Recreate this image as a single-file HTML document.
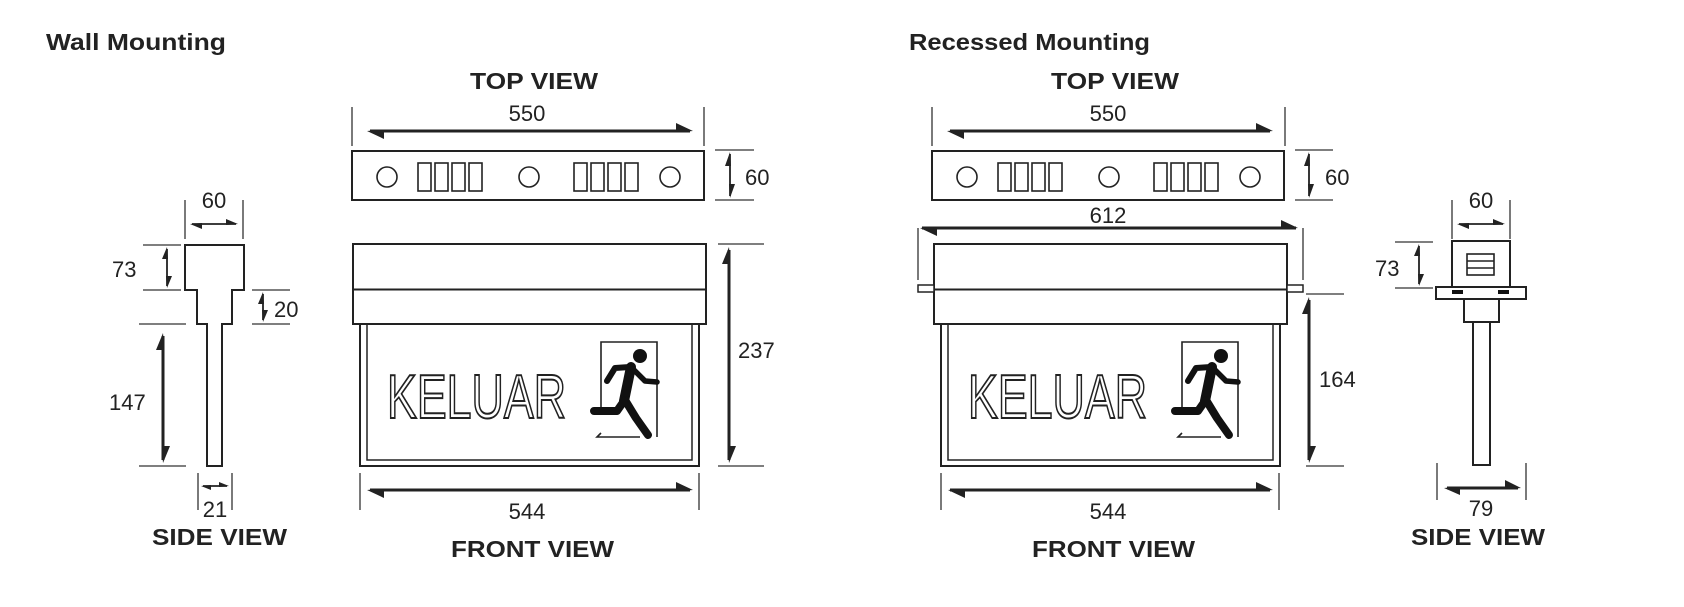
<!DOCTYPE html>
<html><head><meta charset="utf-8"><style>
html,body{margin:0;padding:0;background:#fff;}
svg{display:block;}
text{font-family:"Liberation Sans",Arial,sans-serif;fill:#222;}
.lb{font-weight:bold;font-size:23px;}
.num{font-size:22px;}
</style></head><body>
<svg width="1684" height="607" viewBox="0 0 1684 607" xmlns="http://www.w3.org/2000/svg">
<defs>
<g id="topview">
  <rect x="352" y="151" width="352" height="49" fill="none" stroke="#222" stroke-width="2"/>
  <g fill="none" stroke="#222" stroke-width="1.6">
    <circle cx="387" cy="177" r="10"/><circle cx="529" cy="177" r="10"/><circle cx="670" cy="177" r="10"/>
    <rect x="418" y="163" width="13" height="28"/><rect x="435" y="163" width="13" height="28"/><rect x="452" y="163" width="13" height="28"/><rect x="469" y="163" width="13" height="28"/>
    <rect x="574" y="163" width="13" height="28"/><rect x="591" y="163" width="13" height="28"/><rect x="608" y="163" width="13" height="28"/><rect x="625" y="163" width="13" height="28"/>
  </g>
</g>
<g id="frontview">
  <rect x="353" y="244" width="353" height="80" fill="none" stroke="#222" stroke-width="2"/>
  <line x1="353" y1="289.5" x2="706" y2="289.5" stroke="#222" stroke-width="2"/>
  <rect x="360" y="324" width="339" height="142" fill="none" stroke="#222" stroke-width="2"/>
  <rect x="367" y="324" width="325" height="136" fill="none" stroke="#222" stroke-width="1.5"/>
  <text x="387" y="418" font-size="62" textLength="179" lengthAdjust="spacingAndGlyphs" style="fill:#fff;stroke:#222;stroke-width:2">KELUAR</text>
  <g>
    <polyline points="601,410 601,342 657,342 657,437" fill="none" stroke="#222" stroke-width="1.6"/>
    <polyline points="601,433 597,437 640,437" fill="none" stroke="#222" stroke-width="1.6"/>
    <circle cx="640" cy="356" r="7" fill="#111"/>
    <g fill="none" stroke="#111" stroke-linecap="round" stroke-linejoin="round">
      <polyline points="631,367 624,401" stroke-width="10"/>
      <polyline points="630,367 615,368 607,381" stroke-width="6"/>
      <polyline points="633,369 645,381 657,382" stroke-width="5.5"/>
      <polyline points="625,400 636,418 648,435" stroke-width="8"/>
      <polyline points="624,401 617,411 594,411" stroke-width="8"/>
    </g>
  </g>
</g>
</defs>

<text class="lb" x="46" y="50" font-size="22" textLength="180" lengthAdjust="spacingAndGlyphs">Wall Mounting</text>
<text class="lb" x="909" y="50" font-size="22" textLength="241" lengthAdjust="spacingAndGlyphs">Recessed Mounting</text>
<text class="lb" x="470" y="89" textLength="128" lengthAdjust="spacingAndGlyphs">TOP VIEW</text>
<text class="lb" x="1051" y="89" textLength="128" lengthAdjust="spacingAndGlyphs">TOP VIEW</text>
<text class="lb" x="451" y="557" textLength="163" lengthAdjust="spacingAndGlyphs">FRONT VIEW</text>
<text class="lb" x="1032" y="557" textLength="163" lengthAdjust="spacingAndGlyphs">FRONT VIEW</text>
<text class="lb" x="152" y="545" textLength="135" lengthAdjust="spacingAndGlyphs">SIDE VIEW</text>
<text class="lb" x="1411" y="545" textLength="134" lengthAdjust="spacingAndGlyphs">SIDE VIEW</text>

<use href="#topview"/>
<use href="#topview" transform="translate(580,0)"/>
<use href="#frontview"/>
<use href="#frontview" transform="translate(581,0)"/>
<rect x="918" y="285" width="16" height="7" fill="#fff" stroke="#222" stroke-width="1.5"/>
<rect x="1287" y="285" width="16" height="7" fill="#fff" stroke="#222" stroke-width="1.5"/>

<polygon points="185,245 244,245 244,290 232,290 232,324 222,324 222,466 207,466 207,324 197,324 197,290 185,290" fill="none" stroke="#222" stroke-width="2"/>

<g fill="none" stroke="#222" stroke-width="2">
<rect x="1452" y="241" width="58" height="46"/>
<rect x="1467" y="254" width="27" height="21" stroke-width="1.6"/>
<line x1="1467" y1="261" x2="1494" y2="261" stroke-width="1.4"/>
<line x1="1467" y1="268" x2="1494" y2="268" stroke-width="1.4"/>
<rect x="1436" y="287" width="90" height="12"/>
<rect x="1464" y="299" width="35" height="23"/>
<rect x="1473" y="322" width="17" height="143"/>
</g>
<rect x="1452" y="290" width="11" height="4" fill="#111"/>
<rect x="1498" y="290" width="11" height="4" fill="#111"/>

<g stroke="#333" stroke-width="1.3">
<line x1="352" y1="107" x2="352" y2="146"/><line x1="704" y1="107" x2="704" y2="146"/>
<line x1="715" y1="150" x2="754" y2="150"/><line x1="715" y1="200" x2="754" y2="200"/>
<line x1="718" y1="244" x2="764" y2="244"/><line x1="718" y1="466" x2="764" y2="466"/>
<line x1="360" y1="473" x2="360" y2="510"/><line x1="699" y1="473" x2="699" y2="510"/>
<line x1="185" y1="200" x2="185" y2="239"/><line x1="243" y1="200" x2="243" y2="239"/>
<line x1="143" y1="245" x2="181" y2="245"/><line x1="143" y1="290" x2="181" y2="290"/>
<line x1="252" y1="290" x2="290" y2="290"/><line x1="252" y1="324" x2="290" y2="324"/>
<line x1="139" y1="324" x2="186" y2="324"/><line x1="139" y1="466" x2="186" y2="466"/>
<line x1="198" y1="473" x2="198" y2="510"/><line x1="232" y1="473" x2="232" y2="510"/>

<line x1="932" y1="107" x2="932" y2="146"/><line x1="1285" y1="107" x2="1285" y2="146"/>
<line x1="1295" y1="150" x2="1333" y2="150"/><line x1="1295" y1="200" x2="1333" y2="200"/>
<line x1="918" y1="228" x2="918" y2="280"/><line x1="1303" y1="228" x2="1303" y2="280"/>
<line x1="1306" y1="294" x2="1344" y2="294"/><line x1="1306" y1="466" x2="1344" y2="466"/>
<line x1="941" y1="473" x2="941" y2="510"/><line x1="1279" y1="473" x2="1279" y2="510"/>
<line x1="1452" y1="200" x2="1452" y2="239"/><line x1="1510" y1="200" x2="1510" y2="239"/>
<line x1="1395" y1="242" x2="1433" y2="242"/><line x1="1395" y1="288" x2="1433" y2="288"/>
<line x1="1437" y1="463" x2="1437" y2="500"/><line x1="1526" y1="463" x2="1526" y2="500"/>
</g>

<g stroke="#222" stroke-width="3">
<line x1="370" y1="131" x2="690" y2="131"/>
<line x1="370" y1="490" x2="690" y2="490"/>
<line x1="950" y1="131" x2="1270" y2="131"/>
<line x1="950" y1="490" x2="1270" y2="490"/>
<line x1="922" y1="228" x2="1296" y2="228"/>
<line x1="729" y1="250" x2="729" y2="460"/>
<line x1="163" y1="336" x2="163" y2="460"/>
<line x1="1309" y1="300" x2="1309" y2="460"/>
<line x1="1447" y1="488" x2="1518" y2="488"/>
</g>
<g stroke="#222" stroke-width="1.8">
<line x1="730" y1="154" x2="730" y2="196"/>
<line x1="1309" y1="154" x2="1309" y2="196"/>
<line x1="192" y1="224" x2="236" y2="224"/>
<line x1="1459" y1="224" x2="1503" y2="224"/>
<line x1="167" y1="249" x2="167" y2="286"/>
<line x1="1419" y1="246" x2="1419" y2="284"/>
<line x1="263" y1="294" x2="263" y2="320"/>
<line x1="203" y1="486" x2="227" y2="486"/>
</g>
<g fill="#222">
<polygon points="367,131 384,129.5 384,139"/><polygon points="693,131 676,132.5 676,123"/>
<polygon points="367,490 384,488.5 384,498"/><polygon points="693,490 676,491.5 676,482"/>
<polygon points="947,131 964,129.5 964,139"/><polygon points="1273,131 1256,132.5 1256,123"/>
<polygon points="948,490 965,488.5 965,498"/><polygon points="1273,490 1256,491.5 1256,482"/>
<polygon points="920,228 937,226.5 937,236"/><polygon points="1298,228 1281,229.5 1281,220"/>
<polygon points="1444,488 1460,486.5 1460,495"/><polygon points="1521,488 1505,489.5 1505,480"/>
<polygon points="729,247 722,264 730.5,264"/><polygon points="729,463 736,446 727.5,446"/>
<polygon points="163,333 156,350 164.5,350"/><polygon points="163,463 170,446 161.5,446"/>
<polygon points="1309,297 1302,314 1310.5,314"/><polygon points="1309,463 1316,446 1307.5,446"/>
<polygon points="730,152 725,166 731,166"/><polygon points="730,198 735,184 729,184"/>
<polygon points="1309,152 1304,166 1310,166"/><polygon points="1309,198 1314,184 1308,184"/>
<polygon points="190,224 202,223 202,229"/><polygon points="238,224 226,225 226,219"/>
<polygon points="1457,224 1469,223 1469,229"/><polygon points="1505,224 1493,225 1493,219"/>
<polygon points="167,247 162,259 168,259"/><polygon points="167,288 172,276 166,276"/>
<polygon points="1419,244 1414,256 1420,256"/><polygon points="1419,286 1424,274 1418,274"/>
<polygon points="263,292 258,304 264,304"/><polygon points="263,322 268,310 262,310"/>
<polygon points="201,486 211,485 211,490"/><polygon points="229,486 219,487 219,482"/>
</g>

<g class="num">
<text x="527" y="121" text-anchor="middle">550</text>
<text x="1108" y="121" text-anchor="middle">550</text>
<text x="745" y="185">60</text>
<text x="1325" y="185">60</text>
<text x="738" y="358">237</text>
<text x="527" y="519" text-anchor="middle">544</text>
<text x="1108" y="519" text-anchor="middle">544</text>
<text x="1108" y="223" text-anchor="middle">612</text>
<text x="1319" y="387">164</text>
<text x="214" y="208" text-anchor="middle">60</text>
<text x="1481" y="208" text-anchor="middle">60</text>
<text x="112" y="277">73</text>
<text x="1375" y="276">73</text>
<text x="274" y="317">20</text>
<text x="109" y="410">147</text>
<text x="215" y="517" text-anchor="middle">21</text>
<text x="1481" y="516" text-anchor="middle">79</text>
</g>
</svg>
</body></html>
